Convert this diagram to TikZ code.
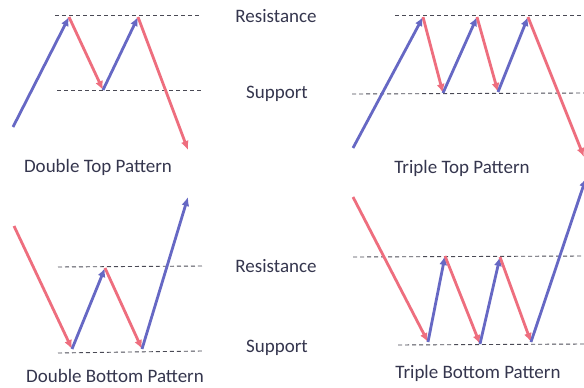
\documentclass[tikz,border=0pt]{standalone}
\usepackage{fontspec}
\setmainfont{Carlito}
\usetikzlibrary{arrows.meta}
\definecolor{upc}{HTML}{6668C4}
\definecolor{dnc}{HTML}{EE6E7E}
\definecolor{txc}{HTML}{35364E}
\definecolor{dsh}{HTML}{4A4A55}
\tikzset{
  up/.style={draw=upc,line width=2.8pt,-{Latex[length=9pt,width=8pt]}},
  dn/.style={draw=dnc,line width=2.8pt,-{Latex[length=9pt,width=8pt]}},
  lvl/.style={draw=dsh,line width=0.9pt,dash pattern=on 4pt off 3pt},
  lbl/.style={text=txc,font=\fontsize{19}{21}\selectfont,inner sep=0pt},
}
\begin{document}
\begin{tikzpicture}[x=1pt,y=-1pt]
\useasboundingbox (0,0) rectangle (584,388);
\fill[white] (0,0) rectangle (584,388);
% ---------- Double top ----------
\coordinate (a0) at (13,127);
\coordinate (a1) at (69,17);
\coordinate (a2) at (103,90);
\coordinate (a3) at (138,17);
\coordinate (a4) at (188,150);
\coordinate (ar1) at (55,15); \coordinate (ar2) at (200,15);
\coordinate (as1) at (57,90); \coordinate (as2) at (202,90);
\draw[lvl] (ar1) -- (ar2);
\draw[lvl] (as1) -- (as2);
\draw[up] (a0) -- (a1);
\draw[dn] (a1) -- (a2);
\draw[up] (a2) -- (a3);
\draw[dn] (a3) -- (a4);
\node[lbl] (t1) at (98,167) {Double Top Pattern};
% ---------- Triple top ----------
\coordinate (b0) at (353,148);
\coordinate (b1) at (423,17);
\coordinate (b2) at (443,93);
\coordinate (b3) at (477,17);
\coordinate (b4) at (498,92);
\coordinate (b5) at (528,17);
\coordinate (b6) at (584,157);
\coordinate (br1) at (395,15); \coordinate (br2) at (584,15);
\coordinate (bs1) at (352,94); \coordinate (bs2) at (584,93);
\draw[lvl] (br1) -- (br2);
\draw[lvl] (bs1) -- (bs2);
\draw[up] (b0) -- (b1);
\draw[dn] (b1) -- (b2);
\draw[up] (b2) -- (b3);
\draw[dn] (b3) -- (b4);
\draw[up] (b4) -- (b5);
\draw[dn] (b5) -- (b6);
\node[lbl] (t2) at (462,168) {Triple Top Pattern};
% ---------- Double bottom ----------
\coordinate (c0) at (14,226);
\coordinate (c1) at (72,349);
\coordinate (c2) at (105,268);
\coordinate (c3) at (142,349);
\coordinate (c4) at (188,197);
\coordinate (cr1) at (58,267); \coordinate (cr2) at (202,266);
\coordinate (cs1) at (58,353); \coordinate (cs2) at (202,351);
\draw[lvl] (cr1) -- (cr2);
\draw[lvl] (cs1) -- (cs2);
\draw[dn] (c0) -- (c1);
\draw[up] (c1) -- (c2);
\draw[dn] (c2) -- (c3);
\draw[up] (c3) -- (c4);
\node[lbl] (t3) at (115,376) {Double Bottom Pattern};
% ---------- Triple bottom ----------
\coordinate (d0) at (353,197);
\coordinate (d1) at (428,342);
\coordinate (d2) at (445,256);
\coordinate (d3) at (480,344);
\coordinate (d4) at (500,257);
\coordinate (d5) at (531,342);
\coordinate (d6) at (586,178);
\coordinate (dr1) at (353,257); \coordinate (dr2) at (584,256);
\coordinate (ds1) at (398,345); \coordinate (ds2) at (584,344);
\draw[lvl] (dr1) -- (dr2);
\draw[lvl] (ds1) -- (ds2);
\draw[dn] (d0) -- (d1);
\draw[up] (d1) -- (d2);
\draw[dn] (d2) -- (d3);
\draw[up] (d3) -- (d4);
\draw[dn] (d4) -- (d5);
\draw[up] (d5) -- (d6);
\node[lbl] (t4) at (478,373) {Triple Bottom Pattern};
% ---------- middle labels ----------
\node[lbl] (m1) at (276,16) {Resistance};
\node[lbl] (m2) at (277,94) {Support};
\node[lbl] (m3) at (276,266) {Resistance};
\node[lbl] (m4) at (277,348) {Support};
\end{tikzpicture}
\end{document}
